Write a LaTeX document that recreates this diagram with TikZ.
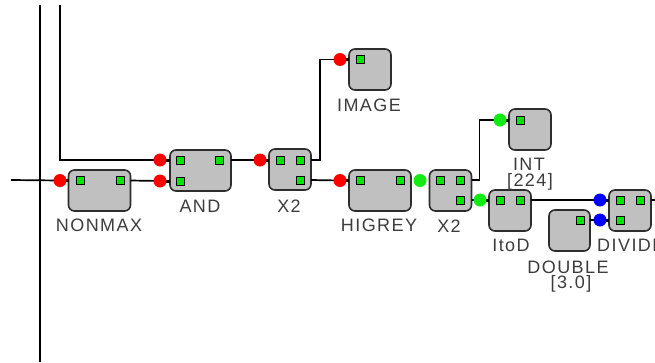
\documentclass[tikz,border=0pt]{standalone}
\usepackage{fontspec}
\setmainfont{Liberation Sans}[LetterSpace=8]
\definecolor{boxfill}{RGB}{192,192,192}
\definecolor{boxline}{RGB}{45,45,45}
\definecolor{portg}{RGB}{0,230,0}
\definecolor{dotred}{RGB}{255,0,0}
\definecolor{dotgreen}{RGB}{20,235,20}
\definecolor{dotblue}{RGB}{0,0,255}
\definecolor{txt}{RGB}{60,60,60}
\tikzset{
  blk/.style={draw=boxline, fill=boxfill, rounded corners=6pt, minimum height=41pt, minimum width=42pt, line width=1.6pt, inner sep=0pt, outer sep=0pt},
  wideblk/.style={blk, minimum width=62pt},
  gsq/.style={draw=black, fill=portg, minimum size=8pt, line width=1pt, inner sep=0pt, outer sep=0pt},
  pdot/.style={circle, minimum size=13pt, inner sep=0pt, outer sep=0pt},
  rdot/.style={pdot, fill=dotred},
  gdot/.style={pdot, fill=dotgreen},
  bdot/.style={pdot, fill=dotblue},
  wire/.style={draw=black, line width=1.7pt},
  stub/.style={draw=black, line width=3pt},
  lbl/.style={anchor=base, inner sep=0pt, text=txt, font=\fontsize{18}{18}\selectfont}
}
\begin{document}
\begin{tikzpicture}[x=1pt, y=-1pt]
\useasboundingbox (0,0) rectangle (655,362);
% boxes
\node[wideblk] (nonmax) at (99.5,190.5) {};
\node[wideblk, minimum width=61pt] (and) at (200.5,170.5) {};
\node[blk] (xa) at (290,169.5) {};
\node[blk] (image) at (370,69.5) {};
\node[wideblk] (higrey) at (380,190.5) {};
\node[blk] (xb) at (450.5,190.5) {};
\node[blk] (int) at (530,129.5) {};
\node[blk] (itod) at (510,210.5) {};
\node[blk] (divide) at (630,210.5) {};
\node[blk, minimum width=41pt] (double) at (569.5,230.5) {};
% green port squares
\node[gsq] (nonmax-a) at (80,180) {};
\node[gsq] (nonmax-b) at (120,180) {};
\node[gsq] (and-a) at (180,160) {};
\node[gsq] (and-b) at (219,160) {};
\node[gsq] (and-c) at (180,181) {};
\node[gsq] (xa-a) at (280,160) {};
\node[gsq] (xa-b) at (300,160) {};
\node[gsq] (xa-c) at (300,180) {};
\node[gsq] (image-a) at (360,59.5) {};
\node[gsq] (higrey-a) at (360,180) {};
\node[gsq] (higrey-b) at (400,180) {};
\node[gsq] (xb-a) at (440,180) {};
\node[gsq] (xb-b) at (460,180) {};
\node[gsq] (xb-c) at (460,200) {};
\node[gsq] (int-a) at (520,120) {};
\node[gsq] (itod-a) at (500,200) {};
\node[gsq] (itod-b) at (520,200) {};
\node[gsq] (divide-a) at (620,200) {};
\node[gsq] (divide-b) at (640,200) {};
\node[gsq] (divide-c) at (620,220) {};
\node[gsq] (double-a) at (580,220) {};
% free ends
\coordinate (topA) at (40,5);
\coordinate (botA) at (40,362);
\coordinate (topB) at (60,5);
\coordinate (leftin) at (11,180);
\coordinate (rightout) at (660,200);
% input ports
\coordinate (nonmax-i) at (60,180.5);
\coordinate (and-i1) at (160,160);
\coordinate (and-i2) at (160,181);
\coordinate (xa-i) at (260,160);
\coordinate (image-i) at (340,59.5);
\coordinate (higrey-i) at (340,180.5);
\coordinate (xb-i) at (420,180.5);
\coordinate (int-i) at (500,120);
\coordinate (itod-i) at (480,200);
\coordinate (divide-i1) at (600,200);
\coordinate (divide-i2) at (600,220);
% wires
\draw[wire] (topA) -- (botA);
\draw[wire] (topB) |- (and-i1);
\draw[wire] (leftin) -- (nonmax-i);
\draw[wire] (nonmax.east |- nonmax-i) -- (and-i2);
\draw[wire] (and.east |- and-i1) -- (xa-i);
\draw[wire] (xa.east |- xa-b) -- ++(9,0) |- (image-i);
\draw[wire] (xa.east |- xa-c) -- (higrey-i);
\draw[wire] (xb.east |- xb-b) -- ++(8,0) |- (int-i);
\draw[wire] (xb.east |- xb-c) -- (itod-i);
\draw[wire] (itod.east |- itod-b) -- (divide-i1);
\draw[wire] (double.east |- double-a) -- (divide-i2);
\draw[wire] (divide.east |- divide-b) -- (rightout);
% stubs
\draw[stub] (nonmax-i) -- (nonmax.west |- nonmax-i);
\draw[stub] (and-i1) -- (and.west |- and-i1);
\draw[stub] (and-i2) -- (and.west |- and-i2);
\draw[stub] (xa-i) -- (xa.west |- xa-i);
\draw[stub] (image-i) -- (image.west |- image-i);
\draw[stub] (higrey-i) -- (higrey.west |- higrey-i);
\draw[stub] (int-i) -- (int.west |- int-i);
\draw[stub] (itod-i) -- (itod.west |- itod-i);
\draw[stub] (divide-i1) -- (divide.west |- divide-i1);
\draw[stub] (divide-i2) -- (divide.west |- divide-i2);
% dots
\node[rdot] (d1) at (nonmax-i) {};
\node[rdot] (d2) at (and-i1) {};
\node[rdot] (d3) at (and-i2) {};
\node[rdot] (d4) at (xa-i) {};
\node[rdot] (d5) at (image-i) {};
\node[rdot] (d6) at (higrey-i) {};
\node[gdot] (d7) at (xb-i) {};
\node[gdot] (d8) at (int-i) {};
\node[gdot] (d9) at (itod-i) {};
\node[bdot] (d10) at (divide-i1) {};
\node[bdot] (d11) at (divide-i2) {};
% labels
\node[lbl] (l-nonmax) at (99,231) {NONMAX};
\node[lbl] (l-and) at (200,212) {AND};
\node[lbl] (l-xa) at (289,212) {X2};
\node[lbl] (l-image) at (369,111) {IMAGE};
\node[lbl] (l-higrey) at (379,231) {HIGREY};
\node[lbl] (l-xb) at (449,232) {X2};
\node[lbl] (l-int) at (529,170) {INT};
\node[lbl] (l-int2) at (530,186) {[224]};
\node[lbl] (l-itod) at (511,251) {ItoD};
\node[lbl, anchor=base west] (l-divide) at (597,251) {DIVIDE};
\node[lbl] (l-double) at (568,273) {DOUBLE};
\node[lbl] (l-double2) at (571,288) {[3.0]};
\end{tikzpicture}
\end{document}
